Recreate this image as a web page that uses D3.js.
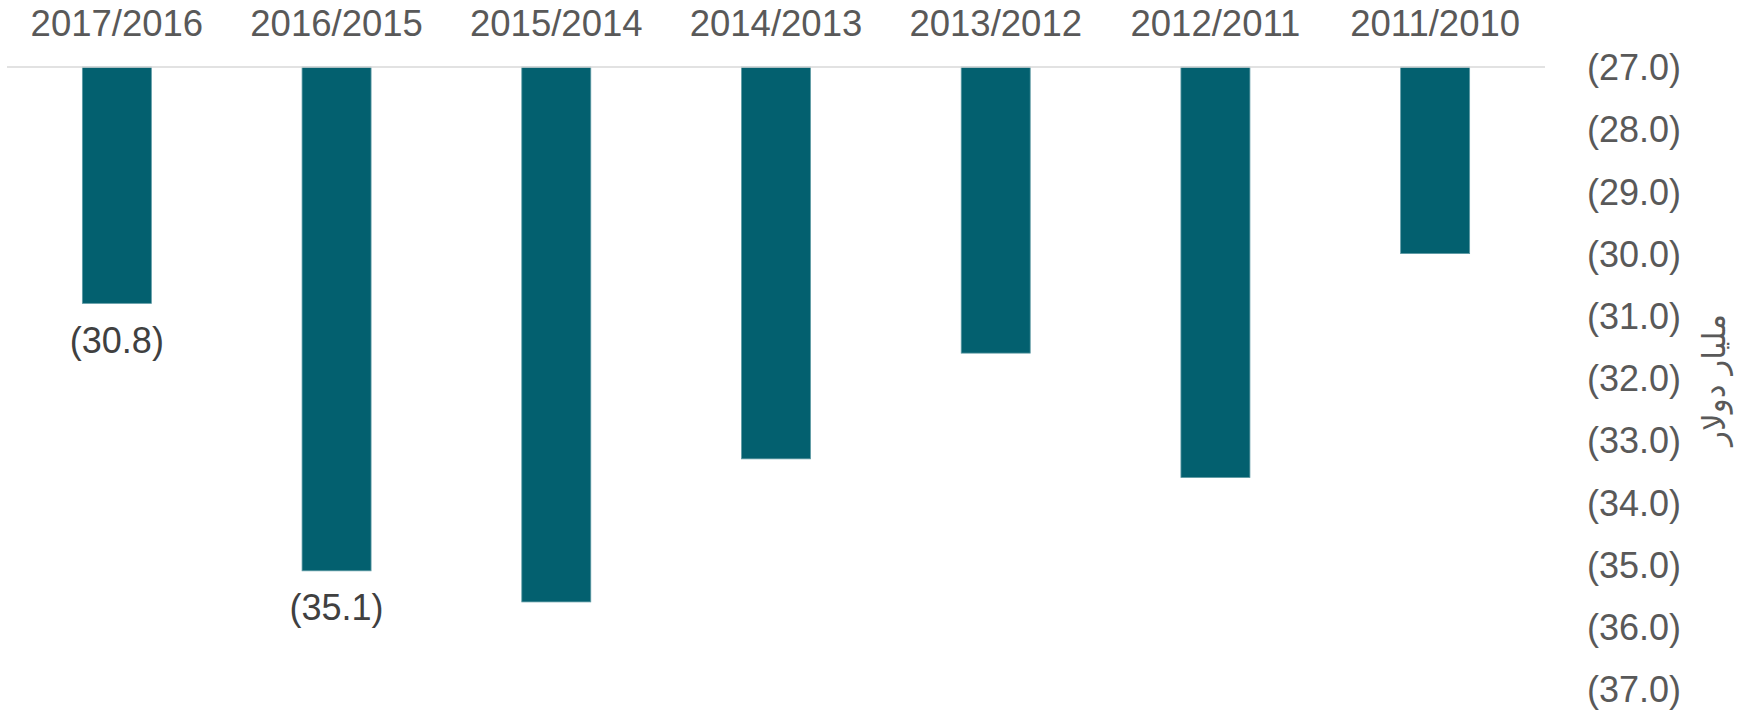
<!DOCTYPE html>
<html>
<head>
<meta charset="utf-8">
<script src="https://cdn.jsdelivr.net/npm/d3@7"></script>
<style>
  body { margin: 0; background: #fff; }
  svg text { font-family: "Liberation Sans", Arial, sans-serif; }
</style>
</head>
<body>
<div id="chart"></div>
<script>
// Chart data (billion dollars, negative values)
const categories = ['2017/2016', '2016/2015', '2015/2014', '2014/2013', '2013/2012', '2012/2011', '2011/2010'];
const values = [-30.8, -35.1, -35.6, -33.3, -31.6, -33.6, -30.0];
const labelled = ['2017/2016', '2016/2015']; // only these show a data label
const yTicks = [-27, -28, -29, -30, -31, -32, -33, -34, -35, -36, -37];
const axisTitle = 'مليار دولار';

const width = 1749, height = 716;
const svg = d3.select('#chart')
    .append('svg')
    .attr('width', width)
    .attr('height', height);

const data = categories.map((c, i) => ({ cat: c, value: values[i] }));

// Scales
const x = d3.scaleBand()
    .domain(categories)
    .range([7, 1545])
    .paddingInner(0.686)
    .paddingOuter(0.343);

const y = d3.scaleLinear()
    .domain([-27, -37])
    .range([67, 689]);

const fmt = d => `(${Math.abs(d).toFixed(1)})`;

// Bars
svg.append('g')
    .selectAll('rect')
    .data(data)
    .enter()
    .append('rect')
    .attr('x', d => x(d.cat))
    .attr('y', y(-27))
    .attr('width', x.bandwidth())
    .attr('height', d => y(d.value) - y(-27))
    .attr('fill', '#03606f')
    .attr('stroke', '#5e9aa4')
    .attr('stroke-width', 0.8);

// Top baseline
svg.append('line')
    .attr('x1', x.range()[0])
    .attr('x2', x.range()[1])
    .attr('y1', y(-27))
    .attr('y2', y(-27))
    .attr('stroke', '#d9d9d9')
    .attr('stroke-width', 1.5);

// Category labels along the top
svg.append('g')
    .selectAll('text')
    .data(categories)
    .enter()
    .append('text')
    .attr('x', d => x(d) + x.bandwidth() / 2)
    .attr('y', 23)
    .attr('dy', '0.35em')
    .attr('text-anchor', 'middle')
    .attr('fill', '#595959')
    .style('font-size', '36.5px')
    .text(d => d);

// Right axis tick labels
const yAxis = d3.axisRight(y)
    .tickValues(yTicks)
    .tickSize(0)
    .tickPadding(0)
    .tickFormat(fmt);

const gAxis = svg.append('g')
    .attr('transform', 'translate(1587,0)')
    .call(yAxis);
gAxis.select('.domain').remove();
gAxis.selectAll('text')
    .attr('fill', '#595959')
    .attr('dy', '0.35em')
    .style('font-size', '36px')
    .style('font-family', '"Liberation Sans", Arial, sans-serif');

// Data labels
svg.append('g')
    .selectAll('text')
    .data(data.filter(d => labelled.includes(d.cat)))
    .enter()
    .append('text')
    .attr('x', d => x(d.cat) + x.bandwidth() / 2)
    .attr('y', d => y(d.value) + 37)
    .attr('dy', '0.35em')
    .attr('text-anchor', 'middle')
    .attr('fill', '#404040')
    .style('font-size', '36px')
    .text(d => fmt(d.value));

// Axis title, rotated
svg.append('text')
    .attr('transform', 'translate(1714,380) rotate(-90)')
    .attr('text-anchor', 'middle')
    .attr('dy', '0.35em')
    .attr('fill', '#595959')
    .style('font-size', '31px')
    .style('font-family', '"DejaVu Sans", sans-serif')
    .text(axisTitle);
</script>
</body>
</html>
